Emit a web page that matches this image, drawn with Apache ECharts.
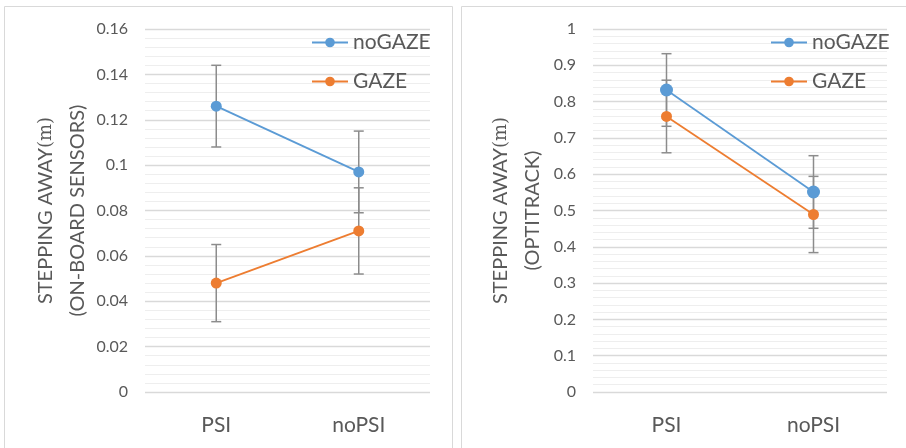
<!DOCTYPE html>
<html>
<head>
<meta charset="utf-8">
<script src="https://cdn.jsdelivr.net/npm/echarts@6/dist/echarts.min.js"></script>
<style>
html, body { margin: 0; padding: 0; background: #fff; }
#main { width: 906px; height: 448px; }
</style>
</head>
<body>
<div id="main"></div>
<script>
// categories
const cats = ['PSI', 'noPSI']
// on-board sensors (left)
const sensorNoGaze = [0.126, 0.097]
const sensorNoGazeErr = [0.018, 0.018]
const sensorGaze = [0.048, 0.071]
const sensorGazeErr = [0.017, 0.019]
// optitrack (right)
const optiNoGaze = [0.832, 0.551]
const optiNoGazeErr = [0.1, 0.1]
const optiGaze = [0.759, 0.489]
const optiGazeErr = [0.1, 0.105]

const BLUE = '#5b9bd5'
const ORANGE = '#ed7d31'
const TXT = '#595959'
const FONT = 'Lato, "Open Sans", sans-serif'

function errData(vals, errs) {
    return vals.map((v, i) => [i, v - errs[i], v + errs[i]])
}

// error bar: vertical line + caps
function errRender(params, api) {
    const x = api.value(0)
    const lo = api.coord([x, api.value(1)])
    const hi = api.coord([x, api.value(2)])
    const w = 5
    const style = { stroke: '#8c8c8c', lineWidth: 1.5 }
    return {
        type: 'group',
        children: [
            { type: 'line', shape: { x1: hi[0], y1: hi[1], x2: lo[0], y2: lo[1] }, style },
            { type: 'line', shape: { x1: hi[0] - w, y1: hi[1], x2: hi[0] + w, y2: hi[1] }, style },
            { type: 'line', shape: { x1: lo[0] - w, y1: lo[1], x2: lo[0] + w, y2: lo[1] }, style }
        ]
    }
}

function yAxisOf(gridIndex, max, interval, title, gap) {
    return {
        type: 'value',
        gridIndex: gridIndex,
        min: 0,
        max: max,
        interval: interval,
        axisLine: { show: false },
        axisTick: { show: false },
        axisLabel: { color: TXT, fontSize: 16, fontFamily: FONT, margin: 17 },
        splitLine: { lineStyle: { color: '#d9d9d9', width: 1.3 } },
        minorTick: { show: false, splitNumber: 5 },
        minorSplitLine: { show: true, lineStyle: { color: '#eeeeee', width: 1 } },
        name: title,
        nameLocation: 'middle',
        nameRotate: 90,
        nameGap: gap,
        nameTextStyle: {
            rich: {
                a: { color: TXT, fontSize: 20, fontFamily: FONT, lineHeight: 32 },
                m: { color: TXT, fontSize: 18, fontFamily: '"DejaVu Serif", serif', lineHeight: 32 }
            }
        }
    }
}

function xAxisOf(gridIndex) {
    return {
        type: 'category',
        gridIndex: gridIndex,
        data: cats,
        axisLine: { show: false },
        axisTick: { show: false },
        axisLabel: { color: TXT, fontSize: 21, fontFamily: FONT, margin: 23 }
    }
}

function lineSeries(name, data, color, idx, size) {
    return {
        name: name,
        type: 'line',
        xAxisIndex: idx,
        yAxisIndex: idx,
        data: data,
        symbol: 'circle',
        symbolSize: size,
        itemStyle: { color: color },
        lineStyle: { color: color, width: 1.8 },
        z: 3
    }
}

function errSeries(data, idx) {
    return {
        type: 'custom',
        xAxisIndex: idx,
        yAxisIndex: idx,
        data: data,
        renderItem: errRender,
        silent: true,
        z: 2
    }
}

function legendOf(left) {
    return {
        data: ['noGAZE', 'GAZE'],
        orient: 'vertical',
        left: left,
        top: 27,
        itemWidth: 36,
        itemHeight: 12,
        itemGap: 18,
        textStyle: { color: TXT, fontSize: 21, fontFamily: FONT, padding: [0, 0, 0, 0] }
    }
}

const chart = echarts.init(document.getElementById('main'))
chart.setOption({
    animation: false,
    graphic: [
        { type: 'rect', shape: { x: 4.5, y: 6.5, width: 448, height: 460 }, style: { fill: 'none', stroke: '#d9d9d9', lineWidth: 1 } },
        { type: 'rect', shape: { x: 461.5, y: 6.5, width: 460, height: 460 }, style: { fill: 'none', stroke: '#d9d9d9', lineWidth: 1 } }
    ],
    legend: [legendOf(306), legendOf(765)],
    grid: [
        { left: 145, top: 29, width: 285, height: 363 },
        { left: 593, top: 29, width: 294, height: 363 }
    ],
    xAxis: [xAxisOf(0), xAxisOf(1)],
    yAxis: [
        yAxisOf(0, 0.16, 0.02, '{a|STEPPING AWAY}{m|(m)}\n{a|(ON-BOARD SENSORS)}', 51),
        yAxisOf(1, 1, 0.1, '{a|STEPPING AWAY}{m|(m)}\n{a|(OPTITRACK)}', 44)
    ],
    series: [
        errSeries(errData(sensorNoGaze, sensorNoGazeErr), 0),
        errSeries(errData(sensorGaze, sensorGazeErr), 0),
        lineSeries('noGAZE', sensorNoGaze, BLUE, 0, 11),
        lineSeries('GAZE', sensorGaze, ORANGE, 0, 11),
        errSeries(errData(optiNoGaze, optiNoGazeErr), 1),
        errSeries(errData(optiGaze, optiGazeErr), 1),
        lineSeries('noGAZE', optiNoGaze, BLUE, 1, 13),
        lineSeries('GAZE', optiGaze, ORANGE, 1, 11)
    ]
})
</script>
</body>
</html>
